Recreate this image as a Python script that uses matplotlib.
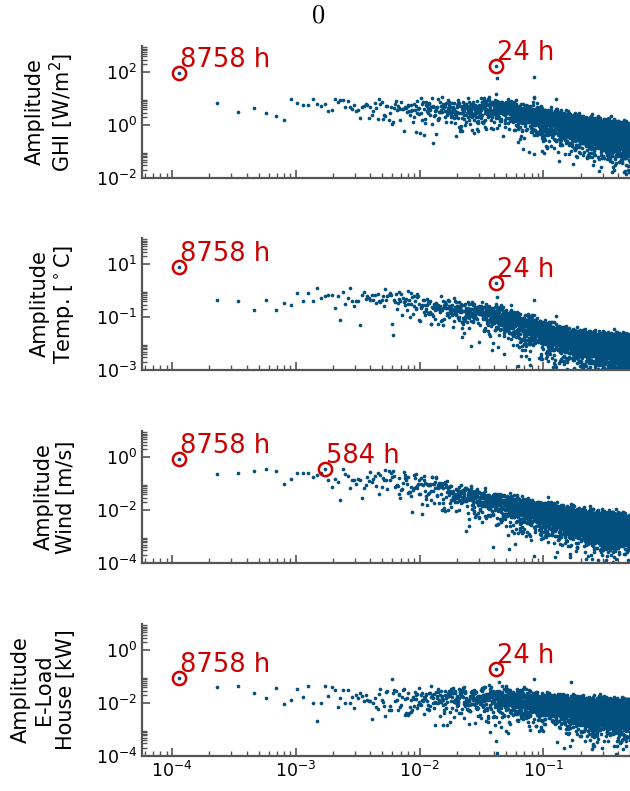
import numpy as np
import matplotlib
matplotlib.use("Agg")
import matplotlib.pyplot as plt
from matplotlib.ticker import FixedLocator, NullFormatter

plt.rcParams["mathtext.fontset"] = "dejavusans"

N_HOURS = 8758
N_FREQ = N_HOURS // 2

BLUE = "#03507f"
RED = "#cc0000"
GREY = "#555555"

# y labels and limits (log10) for the four panels
ylabels = [
    "Amplitude\nGHI [W/m$^2$]",
    "Amplitude\nTemp. [$^\\circ$C]",
    "Amplitude\nWind [m/s]",
    "Amplitude\nE-Load\nHouse [kW]",
]
ylims = [(-2, 3), (-3, 2), (-4, 1), (-4, 1)]
yticks_major = [[-2, 0, 2], [-3, -1, 1], [-4, -2, 0], [-4, -2, 0]]

# log10 amplitude of the first 40 harmonics (k = 1..40)
low_ghi = [1.96, 0.85, 0.50, 0.66, 0.45, 0.35, 0.21, 1.01, 0.85, 0.78,
           0.75, 0.99, 0.80, 0.71, 0.80, 0.52, 0.57, 1.01, 0.86, 0.94,
           0.97, 0.68, 0.92, 0.67, 0.60, 0.77, 0.53, 0.57, 0.26, 0.68,
           0.72, 0.80, 0.76, 0.28, 0.68, 0.37, 0.55, 0.85, 0.66, 0.24]
low_temp = [0.90, -0.33, -0.40, -0.73, -0.35, -0.73, -0.45, -0.54, -0.10, -0.38,
            -0.09, -0.38, 0.10, -0.26, -0.21, -0.16, -0.15, -0.65, -0.20, -1.11,
            -0.03, -0.50, -0.26, 0.10, -0.39, -0.56, -0.39, -0.40, -1.31, -0.15,
            -0.06, -0.31, -0.21, -0.26, -0.35, -0.16, -0.35, -0.17, -0.48, -0.11]
low_wind = [-0.05, -0.62, -0.60, -0.53, -0.43, -0.53, -0.99, -0.80, -0.58, -0.58,
            -0.60, -0.73, -0.67, -0.60, -0.42, -0.87, -1.11, -0.80, -0.93, -1.61,
            -0.45, -0.62, -0.70, -1.17, -0.86, -0.84, -1.01, -0.80, -0.86, -1.55,
            -1.16, -1.05, -0.75, -0.88, -0.57, -0.93, -0.83, -0.70, -1.08, -0.58]
low_load = [-1.03, -1.37, -1.36, -1.60, -1.81, -1.41, -2.02, -1.86, -1.45, -1.76,
            -1.34, -2.01, -2.66, -1.99, -1.36, -1.73, -1.40, -1.50, -2.15, -1.82,
            -1.48, -1.98, -1.51, -1.98, -1.75, -2.18, -1.68, -1.81, -1.63, -1.72,
            -1.90, -1.67, -1.87, -1.90, -1.92, -2.58, -1.98, -1.81, -2.13, -2.23]
low_amps = [low_ghi, low_temp, low_wind, low_load]

# centre of the dense cloud: log10 frequency knots -> log10 amplitude
band_logf = [
    [-2.35, -2.0, -1.6, -1.38, -1.2, -1.0, -0.7, -0.3],
    [-2.35, -2.0, -1.7, -1.38, -1.0, -0.7, -0.3],
    [-2.35, -2.0, -1.38, -1.0, -0.7, -0.3],
    [-2.35, -2.0, -1.38, -1.0, -0.7, -0.3],
]
band_loga = [
    [0.60, 0.55, 0.55, 0.62, 0.45, 0.25, -0.10, -0.40],
    [-0.30, -0.50, -0.75, -0.95, -1.60, -2.00, -2.15],
    [-0.85, -1.10, -1.75, -2.15, -2.45, -2.65],
    [-1.75, -1.85, -1.80, -2.05, -2.20, -2.35],
]
# width factor of the cloud around its centre, per panel
band_spread = [1.1, 1.15, 1.2, 1.1]

# isolated peaks above the cloud: (harmonic k, log10 amplitude)
peaks = [
    [(365, 2.23), (366, 1.80), (730, 1.82), (729, 1.05), (731, 1.02), (1095, 1.00)],
    [(365, 0.28), (366, -0.24), (730, -0.36), (731, -0.93), (1095, -0.96)],
    [],
    [(365, -0.70), (383, -1.21), (730, -1.08), (1460, -1.21), (52, -1.08)],
]

# highlighted periods: (harmonic k, label)
marked = [
    [(1, "8758 h"), (365, "24 h")],
    [(1, "8758 h"), (365, "24 h")],
    [(1, "8758 h"), (15, "584 h")],
    [(1, "8758 h"), (365, "24 h")],
]


def build_spectrum(i, rng):
    k = np.arange(1, N_FREQ + 1)
    f = k / N_HOURS
    level = np.interp(np.log10(f), band_logf[i], band_loga[i])
    r = rng.rayleigh(1.0, size=k.size) / np.sqrt(2 * np.log(2))
    amp = 10 ** (level + band_spread[i] * np.log10(r))
    n_low = len(low_amps[i])
    amp[:n_low] = 10 ** np.array(low_amps[i])
    for kk, la in peaks[i]:
        amp[kk - 1] = 10 ** la
    return f, amp


def style_axis(ax, i, bottom):
    ax.set_xscale("log")
    ax.set_yscale("log")
    ax.set_xlim(5.7e-5, 0.5)
    lo, hi = ylims[i]
    ax.set_ylim(10.0 ** lo, 10.0 ** hi)

    ymaj = [10.0 ** e for e in yticks_major[i]]
    ymin = [s * 10.0 ** e for e in yticks_major[i] for s in range(2, 10)]
    ax.yaxis.set_major_locator(FixedLocator(ymaj))
    ax.yaxis.set_minor_locator(FixedLocator(ymin))
    ax.yaxis.set_minor_formatter(NullFormatter())

    xmaj = [1e-4, 1e-3, 1e-2, 1e-1]
    xmin = [s * 10.0 ** e for e in range(-5, 0) for s in range(2, 10)]
    ax.xaxis.set_major_locator(FixedLocator(xmaj))
    ax.xaxis.set_minor_locator(FixedLocator(xmin))
    ax.xaxis.set_minor_formatter(NullFormatter())
    if bottom:
        ax.set_xticklabels(["$10^{-4}$", "$10^{-3}$", "$10^{-2}$", "$10^{-1}$"])
    else:
        ax.set_xticklabels([])
    ax.set_yticklabels(["$10^{%d}$" % e for e in yticks_major[i]])

    for side in ("top", "right"):
        ax.spines[side].set_visible(False)
    for side in ("left", "bottom"):
        ax.spines[side].set_color(GREY)
        ax.spines[side].set_linewidth(1.6)
    ax.tick_params(which="both", direction="in", color=GREY, labelsize=12.5,
                   labelcolor="black")
    ax.tick_params(which="major", length=6, width=1.2)
    ax.tick_params(which="minor", length=3.5, width=1.0)
    ax.set_facecolor("white")

    ax.set_ylabel(ylabels[i], fontsize=15, linespacing=1.15)
    ax.yaxis.set_label_coords(-0.135, 0.5)


def main():
    rng = np.random.default_rng(7)
    fig = plt.figure(figsize=(6.3, 7.91), dpi=100)
    bottoms = [0.7750, 0.5322, 0.2882, 0.0442]
    height = 0.1669

    for i in range(4):
        ax = fig.add_axes([0.2254, bottoms[i], 0.7746, height])
        f, amp = build_spectrum(i, rng)
        ax.scatter(f, amp, s=7, color=BLUE, linewidths=0, zorder=2)
        for kk, label in marked[i]:
            fx, ay = f[kk - 1], amp[kk - 1]
            ax.plot(fx, ay, "o", ms=9.5, mfc="none", mec=RED, mew=1.8, zorder=3)
            ax.annotate(label, (fx, ay), xytext=(0.5, 4.3), textcoords="offset points",
                        ha="left", va="baseline", color=RED, fontsize=18.5, zorder=4)
        style_axis(ax, i, bottom=(i == 3))

    fig.text(0.505, 0.997, "$0$", ha="center", va="top", fontsize=19,
             math_fontfamily="cm")
    fig.savefig("out.png", dpi=100, facecolor="white")


if __name__ == "__main__":
    main()
